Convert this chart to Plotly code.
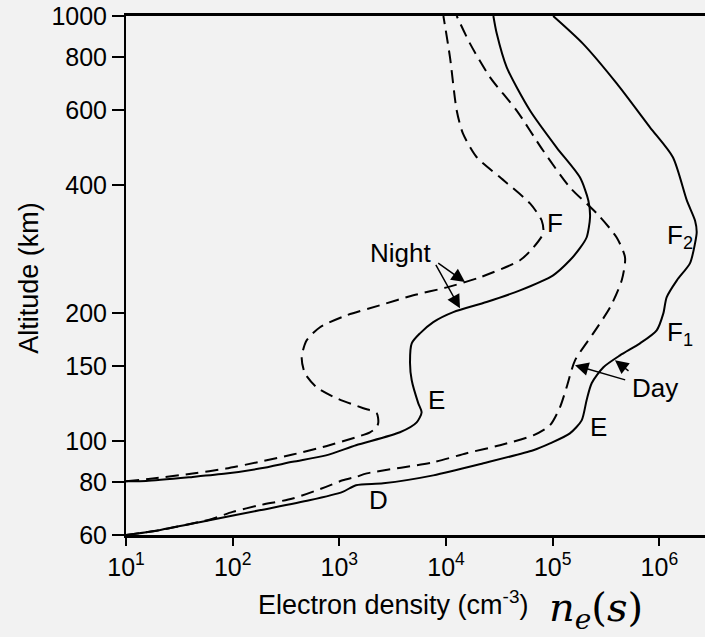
import plotly.graph_objects as go

# ---------------- data (electron density in cm^-3, altitude in km) ----------------
day_solid_ne = [10, 20.5, 60.4, 178, 523, 1074, 1432, 2580, 7600, 22400,
                65800, 94400, 145000, 187000, 208000, 232000, 299000, 428000, 659000, 944000,
                1090000, 1170000, 1460000, 1940000, 2160000, 2240000, 2160000, 1810000, 1340000, 817000,
                398000, 192000, 101000]
day_solid_alt = [60, 61.6, 65.0, 68.6, 72.4, 75.8, 78.6, 79.4, 82.9, 88.5,
                 95, 98.6, 104.1, 111.7, 124.6, 136.6, 149, 158.9, 169.6, 182,
                 199.5, 217.6, 238.6, 262, 291.5, 310, 330, 368, 465, 547,
                 694, 861, 1000]

day_dash_ne = [10, 20.5, 60.4, 100, 178, 365, 750, 1074, 1432, 1810,
               7600, 15600, 32100, 65800, 94400, 117000, 135000, 162000, 240000, 345000,
               444000, 477000, 398000, 259000, 145000, 81000, 46000, 25900, 16800, 12600]
day_dash_alt = [60, 61.6, 65.2, 68.0, 70.5, 73.1, 77.9, 80.7, 82.2, 83.8,
                89, 93.5, 97.6, 103, 108.8, 119.9, 133.6, 154.6, 179, 206,
                238.6, 270, 301, 343, 395, 483, 599, 717, 861, 1000]

night_solid_ne = [10, 15.4, 42.2, 86.6, 178, 365, 750, 1432, 3700, 5310,
                  5910, 5500, 4770, 4600, 4770, 5700, 7600, 11700, 24000, 49400,
                  101000, 145000, 180000, 208000, 224000, 216000, 180000, 109000, 61300, 37100,
                  29900, 27800]
night_solid_alt = [80.3, 80.4, 82.2, 83.7, 86.0, 89.2, 92.4, 97.6, 104.7, 110.5,
                   116.7, 122.5, 138.8, 152.2, 169.6, 179, 190.3, 200.9, 212.2, 226,
                   245.2, 266, 284, 301, 336, 368, 417, 490, 599, 757,
                   909, 1000]

night_dash_ne = [10, 17.8, 42.2, 86.6, 178, 365, 750, 1432, 1938, 2240,
                 2320, 2240, 1680, 944, 613, 476, 444, 494, 659, 1170,
                 2400, 4940, 10200, 20800, 49400, 65800, 81600, 78900, 61300, 32100,
                 19400, 14400, 12600, 10900, 9450]
night_dash_alt = [80.3, 81.5, 83.7, 86.0, 89.2, 92.8, 97.1, 101.9, 104.7, 107.6,
                  110.5, 116.1, 119.3, 125.9, 133.6, 144.1, 157.2, 172.4, 185, 197.4,
                  208.4, 220, 229.7, 242.5, 266, 285, 308, 330, 362, 417,
                  465, 529, 599, 799, 1000]

x_tick_vals = [10, 100, 1000, 10000, 100000, 1000000]
x_tick_text = ["10<sup>1</sup>", "10<sup>2</sup>", "10<sup>3</sup>",
               "10<sup>4</sup>", "10<sup>5</sup>", "10<sup>6</sup>"]
y_tick_vals = [60, 80, 100, 150, 200, 400, 600, 800, 1000]
y_tick_text = ["60", "80", "100", "150", "200", "400", "600", "800", "1000"]

# region labels: (text, log10 density, log10 altitude)
labels = [
    ("Night", 3.569, 2.441),
    ("F", 5.022, 2.512),
    ("E", 3.913, 2.095),
    ("F<sub>2</sub>", 6.19, 2.481),
    ("F<sub>1</sub>", 6.19, 2.253),
    ("Day", 5.959, 2.1235),
    ("E", 5.428, 2.0325),
    ("D", 3.365, 1.86),
]
# arrows: (head log x, head log y, tail log x, tail log y)
arrows = [
    (4.178, 2.3736, 3.913, 2.4207),
    (4.131, 2.3118, 3.897, 2.4176),
    (5.209, 2.1776, 5.694, 2.1424),
    (5.584, 2.1894, 5.725, 2.1619),
]

FONT = "Liberation Sans, Arial, sans-serif"
BG = "#f2f2f2"

fig = go.Figure()
DASH = "13px,7px"
for ne, alt, dash in [
    (day_solid_ne, day_solid_alt, "solid"),
    (day_dash_ne, day_dash_alt, DASH),
    (night_solid_ne, night_solid_alt, "solid"),
    (night_dash_ne, night_dash_alt, DASH),
]:
    fig.add_trace(go.Scatter(
        x=ne, y=alt, mode="lines",
        line=dict(color="black", width=2, dash=dash, shape="spline", smoothing=0.7),
        showlegend=False, hoverinfo="skip",
    ))

annotations = []
for text, lx, ly in labels:
    annotations.append(dict(x=lx, y=ly, xref="x", yref="y", text=text, showarrow=False,
                            font=dict(family=FONT, size=26, color="black"),
                            xanchor="center", yanchor="middle"))
for hx, hy, tx, ty in arrows:
    annotations.append(dict(x=hx, y=hy, xref="x", yref="y", ax=tx, ay=ty,
                            axref="x", ayref="y", text="", showarrow=True,
                            arrowhead=2, arrowsize=1.8, arrowwidth=1.5,
                            arrowcolor="black", standoff=0, startstandoff=0))
# axis titles and the formula
annotations.append(dict(x=0.4604, y=-0.131, xref="paper", yref="paper",
                        text="Electron density (cm<sup>-3</sup>)", showarrow=False,
                        font=dict(family=FONT, size=27, color="black"),
                        xanchor="center", yanchor="middle"))
annotations.append(dict(x=-0.1667, y=0.4966, xref="paper", yref="paper",
                        text="Altitude (km)", textangle=-90, showarrow=False,
                        font=dict(family=FONT, size=27, color="black"),
                        xanchor="center", yanchor="middle"))
annotations.append(dict(x=0.812, y=-0.145, xref="paper", yref="paper",
                        text="<i>n</i><sub><i>e</i></sub>(<i>s</i>)", showarrow=False,
                        font=dict(family="DejaVu Serif, serif", size=40, color="black"),
                        xanchor="center", yanchor="middle"))

fig.update_layout(
    width=705, height=637,
    margin=dict(l=126, r=0, t=16, b=102),
    paper_bgcolor=BG, plot_bgcolor=BG,
    annotations=annotations,
    xaxis=dict(type="log", range=[1, 6.428], tickvals=x_tick_vals, ticktext=x_tick_text,
               showgrid=False, zeroline=False, showline=True, linecolor="black",
               linewidth=2.5, mirror=True, ticks="outside", ticklen=8, tickwidth=2,
               tickcolor="black", tickfont=dict(family=FONT, size=25, color="black")),
    yaxis=dict(type="log", range=[1.77815, 3], tickvals=y_tick_vals, ticktext=y_tick_text,
               showgrid=False, zeroline=False, showline=True, linecolor="black",
               linewidth=2, mirror=False, ticks="outside", ticklen=12, tickwidth=2,
               tickcolor="black", tickfont=dict(family=FONT, size=25, color="black")),
)

fig.write_html("out.html", config={"displayModeBar": False},
               post_script="document.body.style.margin='0';document.body.style.overflow='hidden';")
